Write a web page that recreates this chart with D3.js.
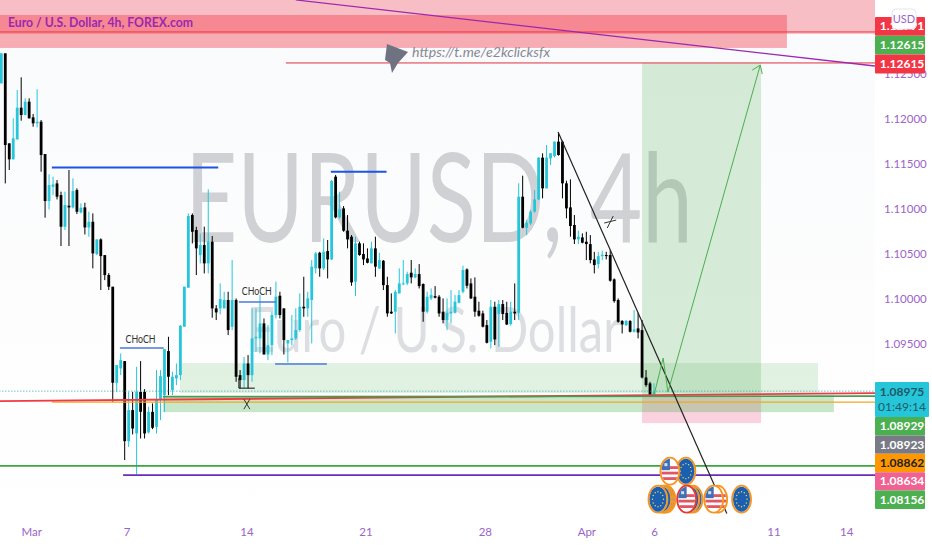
<!DOCTYPE html>
<html><head><meta charset="utf-8">
<script src="https://cdn.jsdelivr.net/npm/d3@7/dist/d3.min.js"></script>
<style>html,body{margin:0;padding:0;background:#fff}svg{display:block}text{font-family:Lato,Roboto,sans-serif}</style>
</head><body><svg id="c" width="932" height="550"></svg>
<script>
const open=[1.12397,1.12731,1.11729,1.11551,1.11773,1.12126,1.12044,1.12193,1.12018,1.11952,
1.11970,1.11610,1.11087,1.11246,1.11283,1.11153,1.10801,1.11035,1.11016,1.11209,
1.10960,1.11016,1.10793,1.10856,1.10496,1.10660,1.10485,1.10263,1.10133,1.09064,
1.09224,1.09305,1.08414,1.08760,1.08500,1.08963,1.08963,1.08511,1.08741,1.08574,
1.08871,1.08927,1.09417,1.08982,1.09112,1.09149,1.09688,1.10122,1.10931,1.10764,
1.10485,1.10597,1.10393,1.10634,1.09892,1.09892,1.09892,1.09985,1.09688,1.09985,
1.09149,1.09094,1.09279,1.09149,1.09558,1.09558,1.09725,1.09379,1.09483,1.09818,
1.10033,1.09892,1.09502,1.09539,1.09558,1.09651,1.09910,1.09892,1.09985,1.10337,
1.10511,1.10337,1.10530,1.10437,1.11358,1.10905,1.11005,1.10757,1.10690,1.10189,
1.10616,1.10497,1.10448,1.10393,1.10560,1.10337,1.10422,1.10151,1.09855,1.09855,
1.10059,1.10163,1.10170,1.10289,1.10237,1.10274,1.10163,1.09855,1.10003,1.10029,
1.10022,1.09855,1.09762,1.09836,1.09843,1.09955,1.10077,1.10326,1.10170,1.10022,
1.09866,1.09836,1.09706,1.09520,1.09910,1.09829,1.09940,1.09843,1.09717,1.09855,
1.09843,1.11135,1.10790,1.10838,1.10968,1.11105,1.11570,1.11228,1.11562,1.11588,
1.11748,1.11748,1.11284,1.11016,1.10820,1.10660,1.10682,1.10634,1.10608,1.10437,
1.10385,1.10474,1.10486,1.10486,1.10215,1.09985,1.09751,1.09706,1.09751,1.09632,
1.09669,1.09650,1.09123,1.09057,1.08915];
const high=[1.12731,1.12731,1.11729,1.12007,1.12323,1.12464,1.12230,1.12230,1.12055,1.12330,
1.11989,1.11610,1.11384,1.11358,1.11320,1.11191,1.11191,1.11432,1.11339,1.11228,
1.11061,1.11068,1.10968,1.10949,1.10660,1.10671,1.10485,1.10285,1.10133,1.09261,
1.09391,1.09305,1.08963,1.08963,1.09242,1.09305,1.08993,1.08797,1.08834,1.09205,
1.09205,1.09439,1.09576,1.09187,1.09279,1.09706,1.10133,1.10949,1.10949,1.10801,
1.10727,1.10801,1.11217,1.10697,1.09929,1.10170,1.10077,1.10077,1.10430,1.10003,
1.09205,1.09353,1.09372,1.09892,1.09892,1.10040,1.09780,1.09706,1.09855,1.10189,
1.10077,1.09892,1.09539,1.09818,1.09892,1.10059,1.10244,1.10077,1.10430,1.10522,
1.10522,1.10671,1.10653,1.11321,1.11377,1.11191,1.11031,1.10931,1.10708,1.10690,
1.10634,1.10616,1.10560,1.10634,1.10690,1.10511,1.10430,1.10244,1.10059,1.10096,
1.10337,1.10430,1.10300,1.10430,1.10337,1.10385,1.10170,1.10077,1.10114,1.10140,
1.10040,1.10003,1.10003,1.10096,1.10040,1.10096,1.10367,1.10337,1.10226,1.10237,
1.09966,1.09866,1.09762,1.09985,1.09966,1.09985,1.09985,1.09966,1.09966,1.10170,
1.11284,1.11369,1.10875,1.10987,1.11209,1.11573,1.11618,1.11711,1.11618,1.11748,
1.11841,1.11759,1.11313,1.11328,1.10931,1.10757,1.10727,1.10745,1.10708,1.10522,
1.10522,1.10534,1.10522,1.10541,1.10226,1.10003,1.09762,1.09762,1.09762,1.09873,
1.09843,1.09762,1.09205,1.09075,1.09057];
const low=[1.12397,1.11283,1.11432,1.11551,1.11773,1.11981,1.12044,1.12007,1.11914,1.11907,
1.11413,1.10901,1.10994,1.11153,1.11105,1.10586,1.10764,1.10586,1.11005,1.10942,
1.10949,1.10715,1.10689,1.10337,1.10485,1.10096,1.10207,1.10096,1.08852,1.08963,
1.09149,1.08203,1.08351,1.08489,1.08043,1.08444,1.08444,1.08500,1.08548,1.08500,
1.08648,1.08741,1.08927,1.08927,1.09038,1.09094,1.09688,1.10122,1.10615,1.10263,
1.10393,1.10281,1.10281,1.09788,1.09762,1.09825,1.09892,1.09595,1.09651,1.09075,
1.09001,1.09001,1.09001,1.09075,1.09409,1.09391,1.09379,1.09316,1.09372,1.09780,
1.09780,1.09379,1.09290,1.09483,1.09539,1.09632,1.09799,1.09799,1.09502,1.10281,
1.10244,1.10319,1.10226,1.10430,1.10894,1.10894,1.10745,1.10560,1.10144,1.10029,
1.10478,1.10374,1.10393,1.10393,1.10244,1.10330,1.10096,1.09799,1.09829,1.09613,
1.10059,1.10151,1.10151,1.10170,1.10226,1.10114,1.09743,1.09836,1.09985,1.10003,
1.09799,1.09725,1.09650,1.09725,1.09836,1.09948,1.10059,1.10114,1.09996,1.09799,
1.09799,1.09680,1.09502,1.09446,1.09483,1.09465,1.09762,1.09706,1.09699,1.09762,
1.09762,1.10783,1.10708,1.10820,1.10957,1.11098,1.11117,1.11228,1.11488,1.11573,
1.11592,1.11117,1.10894,1.10690,1.10608,1.10608,1.10616,1.10430,1.10393,1.10281,
1.10337,1.10430,1.10437,1.10189,1.09955,1.09732,1.09613,1.09695,1.09624,1.09624,
1.09558,1.09112,1.09019,1.08908,1.08908];
const close=[1.12731,1.11710,1.11551,1.11785,1.12126,1.12044,1.12193,1.12007,1.11952,1.11970,
1.11599,1.11087,1.11265,1.11272,1.11135,1.10801,1.11042,1.11016,1.11198,1.10968,
1.11012,1.10793,1.10856,1.10504,1.10660,1.10474,1.10263,1.10133,1.09064,1.09261,
1.09316,1.08414,1.08760,1.08555,1.08963,1.08741,1.08500,1.08741,1.08563,1.08871,
1.09138,1.09439,1.09131,1.09131,1.09149,1.09699,1.10133,1.10920,1.10745,1.10560,
1.10597,1.10393,1.10634,1.09892,1.09847,1.09996,1.09985,1.09651,1.09985,1.09131,
1.09094,1.09279,1.09149,1.09558,1.09576,1.09725,1.09379,1.09483,1.09818,1.10022,
1.09818,1.09539,1.09539,1.09558,1.09651,1.09910,1.09892,1.10003,1.10356,1.10504,
1.10337,1.10522,1.10437,1.11310,1.10905,1.10994,1.10757,1.10660,1.10181,1.10616,
1.10486,1.10437,1.10400,1.10560,1.10356,1.10430,1.10151,1.09836,1.09836,1.10077,
1.10170,1.10170,1.10274,1.10237,1.10274,1.10140,1.09855,1.10022,1.10040,1.10011,
1.09836,1.09762,1.09843,1.09855,1.09966,1.10040,1.10319,1.10144,1.10003,1.09855,
1.09810,1.09688,1.09509,1.09910,1.09546,1.09940,1.09829,1.09713,1.09855,1.09836,
1.11135,1.10790,1.10846,1.10968,1.11105,1.11570,1.11228,1.11570,1.11618,1.11748,
1.11599,1.11284,1.11005,1.10809,1.10660,1.10690,1.10623,1.10608,1.10430,1.10374,
1.10474,1.10489,1.10474,1.10200,1.09973,1.09743,1.09713,1.09751,1.09632,1.09658,
1.09624,1.09123,1.09038,1.08915,1.08964];

const priceTicks=[1.12500,1.12000,1.11500,1.11000,1.10500,1.10000,1.09500];
const timeTickBars=[7.5,31.5,61.6,91.5,121.5,147,164,194,212.3];
const timeTickLabels=["Mar","7","14","21","28","Apr","6","11","14"];
const topTagTexts=["1.12791","1.12615","1.12615"];
const topTagColors=["#f23645","#4caf50","#f23645"];
const lowTagTexts=["1.08929","1.08923","1.08862","1.08634","1.08156"];
const lowTagColors=["#4caf50","#787b86","#ff9800","#f06292","#4caf50"];
const lowTagInk=["#fff","#fff","#222","#fff","#fff"];

// drawings, in [first bar, last bar, top price, bottom price]
const zoneLight=[44.9,205.2,1.09283,1.08949];
const zoneStrong=[40.6,209.2,1.08926,1.08737];
const targetBox=[161,190.9,1.12624,1.08926];
const stopBox=[161,190.9,1.08926,1.08615];
const pinkWide=[-2,222,1.13400,1.12947];
const pinkShort=[-2,197.4,1.13158,1.12791];
// [bar a, price a, bar b, price b]
const blueLines=[[12.7,1.11459,54.5,1.11459],[82.8,1.11414,96.8,1.11414]];
const chochLines=[[29.8,1.09450,40.8,1.09450],[59.7,1.09962,69,1.09962],[68.8,1.09272,81.8,1.09272]];
const chochMarks=[[35,1.09506,"CHoCH"],[64.2,1.10040,"CHoCH"]];
const levelRed=[-2,1.08860,222,1.08949];
const levelOrange=[12.7,1.08849,222,1.08849];
const levelDarkGreen=[40.6,1.08908,222,1.08915];
const levelGreen=[-2,1.08139,222,1.08139];
const levelPurple=[30.6,1.08036,222,1.08036];
const levelRedTop=[-2,1.12969,222,1.12969];
const levelRedTarget=[71.5,1.12624,222,1.12624];
const levelViolet=[74,1.13325,219.5,1.12590];
const lastPrice=1.08971;
const trendLine=[139.9,1.11855,182.3,1.07610];
const moveBars=[164,166.3,167.5,190.7];
const movePrices=[1.08926,1.09339,1.08960,1.12600];
const crossMark=[[61.7,1.08826],[153,1.10853]];
const bracket=[[59.7,1.09115],[59.7,1.09004],[63.7,1.09004]];
const eventBars=[172,168,186,180,179,173.8,173,172.2,167,166.5,166,165];
const eventRow=[1,1,2,2,2,2,2,2,2,2,2,2];
const eventKind=["eu","us","eu","us","us","eu","eu","us","eu","eu","eu","eu"];
const eventHot=[0,0,0,0,0,0,0,1,0,0,0,0];

const svg=d3.select("#c");
const x=d3.scaleLinear().domain([0,164]).range([1.3,654]);
const y=d3.scaleLinear().domain([1.12,1.095]).range([119,343.6]);
const W=875;
const defs=svg.append("defs");
defs.append("clipPath").attr("id","plot").append("rect").attr("width",W).attr("height",515);
const grad=defs.append("linearGradient").attr("id","bg").attr("x1",0).attr("x2",0).attr("y1",0).attr("y2",1);
grad.append("stop").attr("offset",0).attr("stop-color","#f9fafc");
grad.append("stop").attr("offset",.75).attr("stop-color","#fefefe");
grad.append("stop").attr("offset",1).attr("stop-color","#ffffff");

svg.append("rect").attr("width",W).attr("height",550).attr("fill","url(#bg)");
const g=svg.append("g").attr("clip-path","url(#plot)");

g.append("text").attr("transform","translate(185,242) scale(.73,1)").attr("font-size",124).attr("word-spacing",5)
 .attr("font-family","Roboto").attr("fill","#cfd1d4").text("EURUSD, 4h");
g.append("text").attr("x",247).attr("y",352).attr("font-size",62).attr("textLength",374).attr("lengthAdjust","spacingAndGlyphs")
 .attr("font-family","Roboto").attr("fill","#dcdee1").text("Euro / U.S. Dollar");

function box(a,fill){g.append("rect").attr("x",x(a[0])).attr("width",x(a[1])-x(a[0])).attr("y",y(a[2])).attr("height",y(a[3])-y(a[2])).attr("fill",fill);}
box(pinkWide,"rgba(242,54,69,.3)");
box(pinkShort,"rgba(242,54,69,.4)");
box(targetBox,"rgba(76,175,80,.22)");
box(stopBox,"rgba(233,30,99,.2)");
box(zoneLight,"rgba(76,175,80,.16)");
box(zoneStrong,"rgba(76,175,80,.3)");

// candles
const bars=d3.range(open.length);
const col=i=>close[i]>=open[i]?"#26c6da":"#000";
g.append("g").selectAll("line").data(bars).join("line")
 .attr("x1",i=>x(i)).attr("x2",i=>x(i)).attr("y1",i=>y(high[i])).attr("y2",i=>y(low[i]))
 .attr("stroke",col).attr("stroke-width",1);
g.append("g").selectAll("rect").data(bars).join("rect")
 .attr("x",i=>x(i)-1.4).attr("width",2.8)
 .attr("y",i=>Math.min(y(open[i]),y(close[i])))
 .attr("height",i=>Math.max(1,Math.abs(y(open[i])-y(close[i]))))
 .attr("fill",col);

function seg(a,c,w,extra){const l=g.append("line").attr("x1",x(a[0])).attr("y1",y(a[1])).attr("x2",x(a[2])).attr("y2",y(a[3])).attr("stroke",c).attr("stroke-width",w);if(extra)l.attr("stroke-dasharray",extra);return l;}
seg([-2,lastPrice,222,lastPrice],"#26a6a6",1,"1,2");
seg(levelRedTop,"#f23645",1);
seg(levelRedTarget,"#e0303f",1);
seg(levelViolet,"#9c27b0",1.3);
seg(levelOrange,"#f5a623",1.3);
seg(levelRed,"#ee3b46",1.8);
seg(levelDarkGreen,"#4c9a4c",1.6);
seg(levelGreen,"#3da53f",1.6);
seg(levelPurple,"#6a2bb8",1.8);
blueLines.forEach(a=>seg(a,"#1e53e5",2));
chochLines.forEach(a=>seg(a,"#4a78dc",1.5));
chochMarks.forEach(m=>g.append("text").attr("x",x(m[0])-15).attr("y",y(m[1])).attr("font-size",11).attr("textLength",30).attr("lengthAdjust","spacingAndGlyphs").attr("fill","#333").text(m[2]));
seg(trendLine,"#222",1.2);

const line=d3.line().x(d=>x(d[0])).y(d=>y(d[1]));
g.append("path").attr("d",line(moveBars.map((b,i)=>[b,movePrices[i]]))).attr("fill","none").attr("stroke","#4caf50").attr("stroke-width",1);
const tipX=x(moveBars[3]),tipY=y(movePrices[3]);
g.append("path").attr("d",`M${tipX-8},${tipY+5}L${tipX},${tipY}L${tipX+2},${tipY+9}`).attr("fill","none").attr("stroke","#4caf50").attr("stroke-width",1);
g.append("path").attr("d",line(bracket)).attr("fill","none").attr("stroke","#111").attr("stroke-width",1);
crossMark.forEach((c,k)=>{const cx=x(c[0]),cy=y(c[1]);
 const d=k===0?`M${cx-3},${cy-5}L${cx+3},${cy+5}M${cx+3},${cy-5}L${cx-3},${cy+5}`:`M${cx-6},${cy+1}L${cx+6},${cy-2}M${cx+3},${cy-6}L${cx-3},${cy+6}`;
 g.append("path").attr("d",d).attr("stroke","#333").attr("stroke-width",1).attr("fill","none");});

// title + link
g.append("text").attr("x",8).attr("y",27).attr("font-size",14).attr("font-weight",700).attr("textLength",185).attr("lengthAdjust","spacingAndGlyphs").attr("fill","#9c27b0").text("Euro / U.S. Dollar, 4h, FOREX.com");
g.append("path").attr("d","M387,44L408,52L398,63L392,73L390,63L385,60Z").attr("fill","#6f7280");
g.append("text").attr("x",412).attr("y",57).attr("font-size",13).attr("font-style","italic").attr("textLength",138).attr("lengthAdjust","spacingAndGlyphs").attr("fill","#868993").text("https://t.me/e2kclicksfx");

// calendar badges
const rowPrice={1:1.08080,2:1.07768};
eventBars.forEach((b,i)=>{
 const cx=x(b),cy=y(rowPrice[eventRow[i]]);
 const e=g.append("g").attr("transform",`translate(${cx},${cy})`);
 const id="ev"+i;
 defs.append("clipPath").attr("id",id).append("ellipse").attr("rx",8.5).attr("ry",12.5);
 e.append("ellipse").attr("rx",9.5).attr("ry",13.5).attr("fill","#fff").attr("stroke",eventHot[i]?"#e53935":"#f7941d").attr("stroke-width",1.8);
 const f=e.append("g").attr("clip-path",`url(#${id})`);
 if(eventKind[i]==="eu"){
  f.append("rect").attr("x",-10).attr("y",-14).attr("width",20).attr("height",28).attr("fill","#1b5fb0");
  d3.range(12).forEach(k=>f.append("circle").attr("cx",5.5*Math.cos(k*Math.PI/6)).attr("cy",7.5*Math.sin(k*Math.PI/6)).attr("r",.7).attr("fill","#ffd54a"));
 } else {
  d3.range(3).forEach(k=>f.append("rect").attr("x",-10).attr("y",-2+k*5.5-3).attr("width",20).attr("height",2.8).attr("fill","#e25563"));
  f.append("rect").attr("x",-10).attr("y",-14).attr("width",10).attr("height",13).attr("fill","#3f6fb5");
  f.append("rect").attr("x",-5.5).attr("y",-8).attr("width",3).attr("height",3).attr("fill","#cfe0f5");
 }
});

// axes
const yAxis=svg.append("g").attr("transform",`translate(${W},0)`).call(d3.axisRight(y).tickValues(priceTicks).tickFormat(d3.format(".5f")).tickSize(0).tickPadding(9));
yAxis.select(".domain").remove();
yAxis.selectAll("text").attr("font-size",11.5).attr("font-family","Lato").attr("fill","#9c64c8");
const xAxis=svg.append("g").attr("transform","translate(0,520)").call(d3.axisBottom(x).tickValues(timeTickBars).tickFormat((d,i)=>timeTickLabels[i]).tickSize(0).tickPadding(8));
xAxis.select(".domain").remove();
xAxis.selectAll("text").attr("font-size",11.5).attr("font-family","Lato").attr("fill","#9c64c8");

// price tags
function tag(top,h,w,fill,ink,t,dy){
 svg.append("rect").attr("x",W).attr("y",top).attr("width",w).attr("height",h).attr("rx",1).attr("fill",fill);
 svg.append("text").attr("x",W+27).attr("y",top+(dy||h/2+4)).attr("text-anchor","middle").attr("font-size",12).attr("font-weight",700).attr("fill",ink).text(t);
}
topTagTexts.forEach((t,i)=>tag(17+i*18.8,18.8,50,topTagColors[i],"#fff",t));
svg.append("rect").attr("x",W).attr("y",382).attr("width",54).attr("height",35).attr("rx",1).attr("fill","#26c6da");
svg.append("text").attr("x",W+27).attr("y",396).attr("text-anchor","middle").attr("font-size",12).attr("font-weight",700).attr("fill","#1d5a66").text("1.08975");
svg.append("text").attr("x",W+27).attr("y",411).attr("text-anchor","middle").attr("font-size",12).attr("fill","#1d5a66").text("01:49:14");
lowTagTexts.forEach((t,i)=>tag(417+i*18.4,18.4,50,lowTagColors[i],lowTagInk[i],t));
svg.append("rect").attr("x",892).attr("y",9).attr("width",24).attr("height",20).attr("rx",4).attr("fill","#fff").attr("stroke","#e6e6ea");
svg.append("text").attr("x",904).attr("y",23).attr("text-anchor","middle").attr("font-size",11).attr("fill","#9c64c8").text("USD");
</script></body></html>
